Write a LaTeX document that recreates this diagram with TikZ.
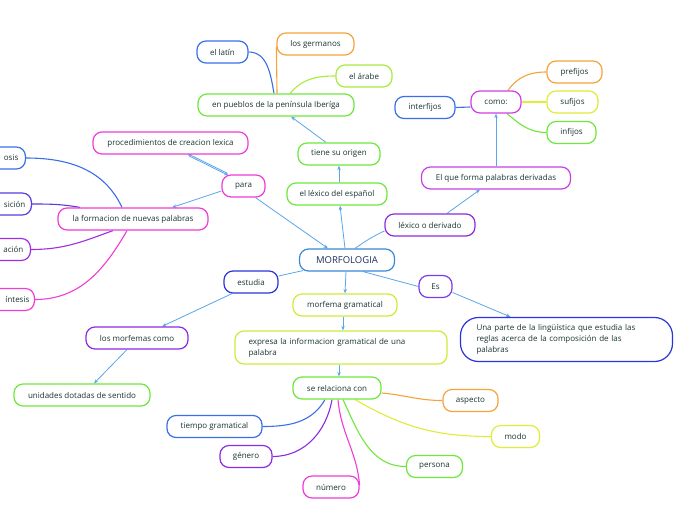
\documentclass[tikz,border=0pt]{standalone}
\usepackage{fontspec}
\setmainfont{Open Sans}
\usetikzlibrary{arrows.meta}
\pgfdeclarelayer{bg}
\pgfsetlayers{bg,main}
\definecolor{txt}{HTML}{1A3532}
\definecolor{navy}{HTML}{1D2F5E}
\definecolor{cblue}{HTML}{3A6FE8}
\definecolor{cdblue}{HTML}{2B35D8}
\definecolor{cbviol}{HTML}{5A3BE0}
\definecolor{cpurple}{HTML}{8B2BE2}
\definecolor{cviol}{HTML}{7B3BE8}
\definecolor{cmag}{HTML}{F03CD8}
\definecolor{cpm}{HTML}{C840E8}
\definecolor{corange}{HTML}{F5A43C}
\definecolor{cyellow}{HTML}{E0EC3A}
\definecolor{clime}{HTML}{CCEC3C}
\definecolor{cgreen}{HTML}{6EE83C}
\definecolor{cgreen2}{HTML}{A8EC3C}
\definecolor{cmorf}{HTML}{3A8AD8}
\definecolor{arrblue}{HTML}{5AA6EC}
\tikzset{
  box/.style={draw, rounded corners=9pt, line width=1.2pt, minimum height=22pt,
    inner xsep=4pt, inner ysep=2pt, font=\fontsize{8}{11}\selectfont, text=txt, fill=white},
  cutbox/.style={box, anchor=east, text width=60pt, align=right},
  arr/.style={draw=arrblue, line width=0.8pt, -{Stealth[length=4.5pt,width=3.5pt]}},
  ln/.style={draw=arrblue, line width=0.8pt},
  br/.style={line width=1.1pt}
}
\begin{document}
\begin{tikzpicture}[x=1pt,y=-1pt]
\useasboundingbox (0,0) rectangle (696,520);
\clip (0,0) rectangle (696,520);
\begin{pgfonlayer}{bg}
\fill[white] (0,0) rectangle (696,520);
\end{pgfonlayer}

\node[box, draw=cmorf, minimum width=95pt, font=\fontsize{9.5}{11}\selectfont, text=navy] (morf) at (347,260) {MORFOLOGIA};
\node[box, draw=cblue, minimum width=51pt] (latin) at (222.5,52) {el latín};
\node[box, draw=corange, minimum width=77pt] (germ) at (315.5,44) {los germanos};
\node[box, draw=cgreen2, minimum width=56pt] (arabe) at (364,76) {el árabe};
\node[box, draw=cgreen, minimum width=156pt] (pueb) at (276,105) {en pueblos de la península Iberíga};
\node[box, draw=cgreen, minimum width=82pt] (origen) at (339,154) {tiene su origen};
\node[box, draw=cgreen, minimum width=100pt] (lexesp) at (337,194) {el léxico del español};
\node[box, draw=cmag, minimum width=155pt] (proc) at (170.5,143) {procedimientos de creacion lexica};
\node[box, draw=cmag, minimum width=43pt] (para) at (243.5,186) {para};
\node[box, draw=cmag, minimum width=150pt] (form) at (133,219) {la formacion de nuevas palabras};
\node[cutbox, draw=cblue, inner xsep=7pt] (osis) at (26,158) {osis};
\node[cutbox, draw=cbviol, inner xsep=6pt] (sicion) at (32,204) {sición};
\node[cutbox, draw=cpurple!80!cmag, inner xsep=7pt] (acion) at (31,249.5) {ación};
\node[cutbox, draw=cmag, inner xsep=5pt] (intesis) at (35,299.5) {íntesis};
\node[box, draw=cdblue, minimum width=54pt] (estudia) at (251,282) {estudia};
\node[box, draw=cpurple, minimum width=102pt] (morfcomo) at (137,338) {los morfemas como};
\node[box, draw=cgreen, minimum width=136pt] (unid) at (82,395) {unidades dotadas de sentido};
\node[box, draw=clime, minimum width=104pt] (mgram) at (345,305) {morfema gramatical};
\node[box, draw=clime, minimum height=33pt, text width=185pt, inner xsep=13.5pt, align=left] (expresa) at (341,347.5) {expresa la informacion gramatical de una\\palabra};
\node[box, draw=cgreen, minimum width=88pt] (serel) at (337,388) {se relaciona con};
\node[box, draw=corange, minimum width=55pt] (aspecto) at (470.5,400.5) {aspecto};
\node[box, draw=cyellow, minimum width=48pt] (modo) at (515.5,436.5) {modo};
\node[box, draw=cgreen, minimum width=56pt] (persona) at (434.5,466.5) {persona};
\node[box, draw=cmag, minimum width=56pt] (numero) at (331,487) {número};
\node[box, draw=cpurple, minimum width=52pt] (genero) at (246,456.5) {género};
\node[box, draw=cblue, minimum width=95pt] (tiempo) at (214.5,426.5) {tiempo gramatical};
\node[box, draw=cviol, minimum width=33pt] (es) at (435.5,286.5) {Es};
\node[box, draw=cdblue, minimum height=44pt, text width=180pt, inner xsep=16pt, align=left, rounded corners=18pt] (una) at (566.5,339.5) {Una parte de la lingüística que estudia las\\reglas acerca de la composición de las\\palabras};
\node[box, draw=cpurple, minimum width=90pt] (lexder) at (430,225) {léxico o derivado};
\node[box, draw=cpm, minimum width=149pt] (elque) at (496,178) {El que forma palabras derivadas};
\node[box, draw=cpm!80!cmag, minimum width=50pt] (como) at (496,102) {como:};
\node[box, draw=cblue, minimum width=60pt] (interf) at (425,107.5) {interfijos};
\node[box, draw=corange, minimum width=55pt] (pref) at (574.5,72) {prefijos};
\node[box, draw=cyellow, minimum width=51pt] (suf) at (572.5,102) {sufijos};
\node[box, draw=cgreen, minimum width=49pt] (inf) at (571.5,132.5) {infijos};

\begin{pgfonlayer}{bg}
% light blue connectors
\draw[arr] ([xshift=-2pt]morf.north) -- ([xshift=3pt]lexesp.south);
\draw[arr] ([xshift=2pt]lexesp.north) -- (origen.south);
\draw[arr] ([xshift=-13pt]origen.north) -- ([xshift=15pt]pueb.south);
\draw[arr] ([xshift=12pt]para.south) -- ([xshift=-19pt]morf.north);
\draw[arr] ([yshift=-5pt]para.west) -- ([xshift=39pt]form.north);
\draw[arr] ([xshift=-16pt,yshift=1pt]para.north) -- ([xshift=17pt,yshift=1pt]proc.south);
\draw[arr] ([xshift=18pt,yshift=-1pt]proc.south) -- ([xshift=-15pt,yshift=-1pt]para.north);
\draw[ln] ([xshift=8pt]morf.north) to[out=35,in=205] ([yshift=-6pt]lexder.west);
\draw[arr] ([xshift=17pt]lexder.north) -- ([xshift=-16pt]elque.south);
\draw[arr] (elque.north) -- (como.south);
\draw[arr] ([xshift=-1pt]morf.south) -- (mgram.north);
\draw[arr] ([xshift=-2pt]mgram.south) -- ([xshift=2pt]expresa.north);
\draw[arr] ([xshift=-2pt]expresa.south) -- ([xshift=2pt]serel.north);
\draw[ln] ([xshift=4pt,yshift=1pt]morf.south west) -- ([yshift=6pt]estudia.east);
\draw[arr] ([xshift=-19pt]estudia.south) -- ([xshift=25pt]morfcomo.north);
\draw[arr] ([xshift=-10pt]morfcomo.south) -- ([xshift=12pt]unid.north);
\draw[ln] ([xshift=16pt]morf.south) -- (es.west);
\draw[arr] ([yshift=-6pt]es.east) -- ([xshift=-56pt]una.north);

% coloured branches
\draw[br, cblue] (latin.east) to[out=0,in=100] ([xshift=-2pt]pueb.north);
\draw[br, corange] ([xshift=1pt]pueb.north) -- ([yshift=9pt]germ.south west);
\draw[br, cgreen2] ([xshift=14pt]pueb.north) to[out=50,in=180] (arabe.west);
\draw[br, cblue] (osis.east) to[out=0,in=115] ([xshift=-11pt]form.north);
\draw[br, cbviol] (sicion.east) to[out=0,in=170] ([xshift=-53pt]form.north);
\draw[br, cpurple!80!cmag] (acion.east) to[out=0,in=200] ([xshift=-20pt]form.south);
\draw[br, cmag] (intesis.east) to[out=0,in=240] ([xshift=-6pt]form.south);
\draw[br, cblue] ([yshift=-5pt]como.west) -- (interf.east);
\draw[br, corange] ([xshift=12pt]como.north) to[out=55,in=180] (pref.west);
\draw[br, cyellow] (como.east) -- (suf.west);
\draw[br, cgreen] ([xshift=11pt]como.south) to[out=-40,in=180] (inf.west);
\draw[br, corange] ([yshift=-5pt]serel.east) to[out=-5,in=180] (aspecto.west);
\draw[br, cyellow] ([xshift=18pt]serel.south) to[out=-30,in=180] (modo.west);
\draw[br, cgreen] ([xshift=6pt]serel.south) to[out=-65,in=180] (persona.west);
\draw[br, cmag] ([xshift=1pt]serel.south) to[out=-85,in=95] ([yshift=2pt]numero.east);
\draw[br, cpurple] ([xshift=-5pt]serel.south) to[out=-100,in=0] (genero.east);
\draw[br, cblue] ([xshift=-12pt]serel.south) to[out=-120,in=0] (tiempo.east);
\end{pgfonlayer}
\end{tikzpicture}
\end{document}
